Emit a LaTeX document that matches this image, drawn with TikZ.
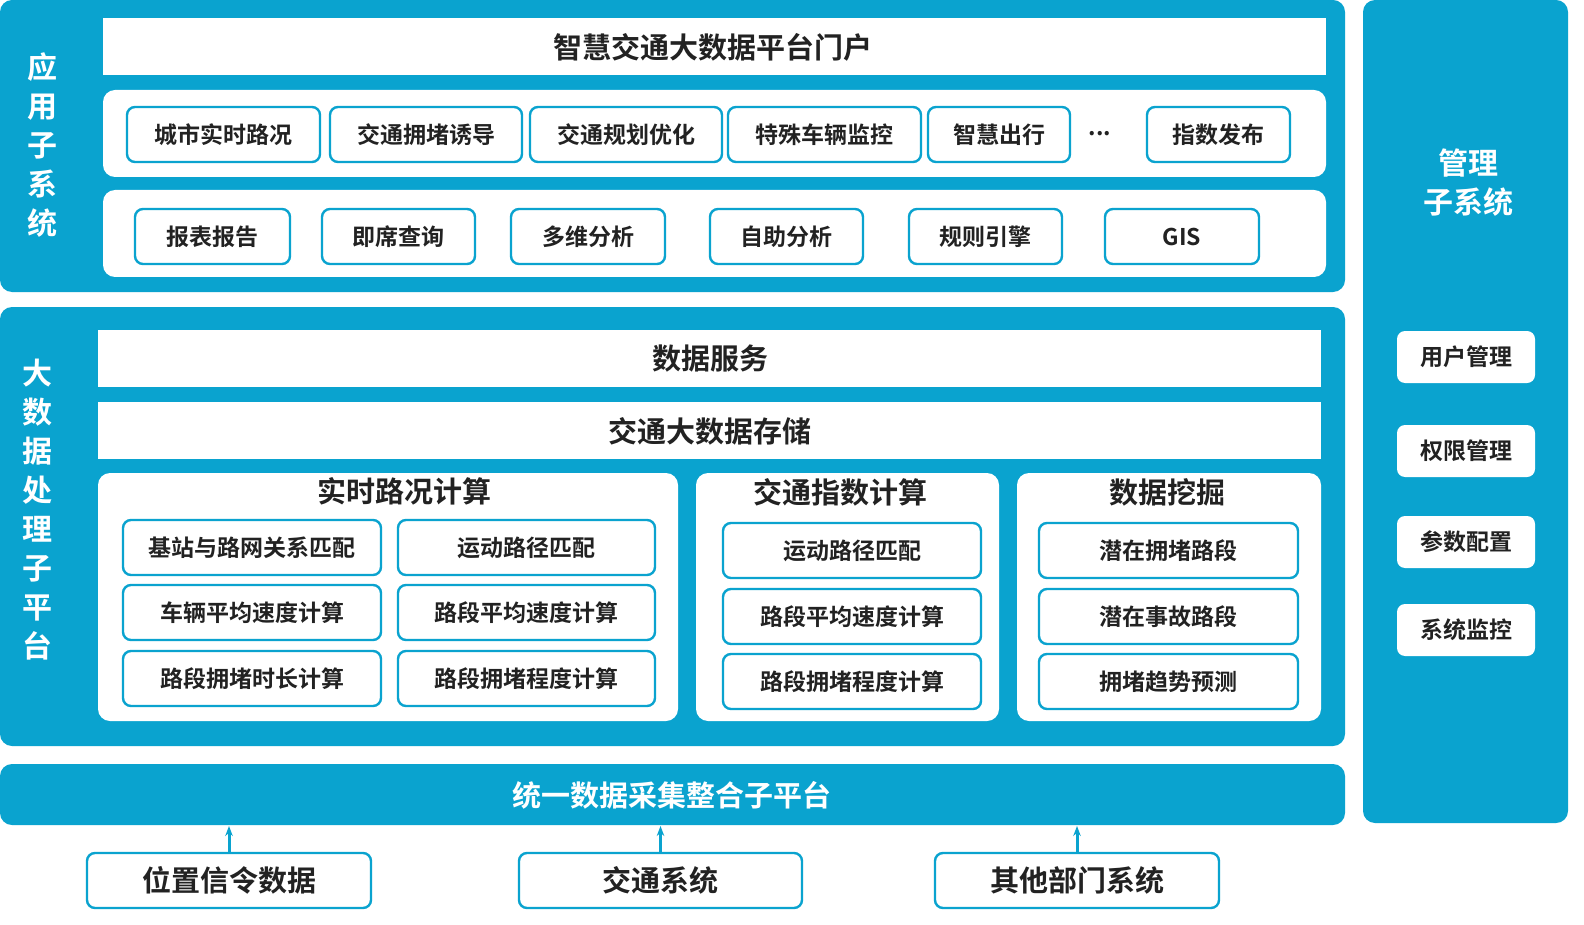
\documentclass[tikz,border=0pt]{standalone}
\usetikzlibrary{arrows.meta}
\usepackage{fontspec}
\setmainfont{Noto Sans CJK SC}[BoldFont={* Bold}]
\begin{document}
\begin{tikzpicture}[x=0.5pt,y=-0.5pt,
  panel/.style={fill=mb,draw=none,rounded corners=6pt},
  wbar/.style={fill=white,draw=none},
  wrow/.style={fill=white,draw=none,rounded corners=6pt},
  btn/.style={fill=white,draw=mb,line width=1.2pt,rounded corners=4pt},
  txt/.style={text=tx,font=\bfseries\fontsize{11.5}{13}\selectfont},
  big/.style={text=tx,font=\bfseries\fontsize{14.5}{16}\selectfont},
  vt/.style={text=white,font=\bfseries\fontsize{15}{19.5}\selectfont,align=center},
  arr/.style={-{Stealth[length=5pt]},draw=mb,line width=1.5pt}]
\definecolor{mb}{HTML}{0AA3CF}
\definecolor{tx}{HTML}{222222}
\useasboundingbox (0,0) rectangle (1584,925);
\fill[white] (0,0) rectangle (1584,925);
% top panel
\fill[panel] (0,0) rectangle (1345,292);
\node[vt] (vt1) at (42,145) {应\\用\\子\\系\\统};
\fill[wbar] (103,18) rectangle (1326,75);
\node[big] (portal) at (713,47) {智慧交通大数据平台门户};
\fill[wrow] (103,90) rectangle (1326,177);
\fill[wrow] (103,190) rectangle (1326,277);
\foreach \a/\b/\t [count=\i] in {127/320/城市实时路况,330/522/交通拥堵诱导,530/722/交通规划优化,728/921/特殊车辆监控,928/1070/智慧出行,1147/1290/指数发布}{
  \draw[btn] (\a,107) rectangle (\b,162);
  \node[txt] (r1\i) at ({(\a+\b)/2},134.5) {\t};}
\node[txt] (dots) at (1100,134) {...};
\foreach \a/\b/\t [count=\i] in {135/290/报表报告,322/475/即席查询,511/665/多维分析,710/863/自助分析,909/1062/规则引擎,1105/1259/GIS}{
  \draw[btn] (\a,209) rectangle (\b,264);
  \node[txt] (r2\i) at ({(\a+\b)/2},236.5) {\t};}
% middle panel
\fill[panel] (0,307) rectangle (1345,746);
\node[vt] (vt2) at (38,510) {大\\数\\据\\处\\理\\子\\平\\台};
\fill[wbar] (98,330) rectangle (1321,387);
\node[big] (ds) at (710,359) {数据服务};
\fill[wbar] (98,402) rectangle (1321,459);
\node[big] (st) at (710,431) {交通大数据存储};
\fill[wrow] (98,473) rectangle (678,721);
\fill[wrow] (696,473) rectangle (999,721);
\fill[wrow] (1017,473) rectangle (1321,721);
\node[big] (h1) at (404,491) {实时路况计算};
\node[big] (h2) at (840,492) {交通指数计算};
\node[big] (h3) at (1167,492) {数据挖掘};
\foreach \y/\t [count=\i] in {520/基站与路网关系匹配,585/车辆平均速度计算,651/路段拥堵时长计算}{
  \draw[btn] (123,\y) rectangle (381,\y+55);
  \node[txt] (a\i) at (252,\y+27.5) {\t};}
\foreach \y/\t [count=\i] in {520/运动路径匹配,585/路段平均速度计算,651/路段拥堵程度计算}{
  \draw[btn] (398,\y) rectangle (655,\y+55);
  \node[txt] (b\i) at (526,\y+27.5) {\t};}
\foreach \y/\t [count=\i] in {523/运动路径匹配,589/路段平均速度计算,654/路段拥堵程度计算}{
  \draw[btn] (723,\y) rectangle (981,\y+55);
  \node[txt] (c\i) at (852,\y+27.5) {\t};}
\foreach \y/\t [count=\i] in {523/潜在拥堵路段,589/潜在事故路段,654/拥堵趋势预测}{
  \draw[btn] (1039,\y) rectangle (1298,\y+55);
  \node[txt] (d\i) at (1168,\y+27.5) {\t};}
% bottom bar
\fill[panel] (0,764) rectangle (1345,825);
\node[text=white,font=\bfseries\fontsize{14.5}{16}\selectfont] (bar) at (672,795) {统一数据采集整合子平台};
\foreach \a/\b/\t [count=\i] in {87/371/位置信令数据,519/802/交通系统,935/1219/其他部门系统}{
  \draw[btn] (\a,853) rectangle (\b,908);
  \node[big] (s\i) at ({(\a+\b)/2},880.5) {\t};
  \coordinate (t\i) at ({(\a+\b)/2},853);
  \coordinate (u\i) at ({(\a+\b)/2},826);
  \draw[arr] (t\i) -- (u\i);}
% right panel
\fill[panel] (1363,0) rectangle (1568,823);
\node[vt] (mg) at (1468,183) {管理\\子系统};
\foreach \y/\t [count=\i] in {331/用户管理,425/权限管理,516/参数配置,604/系统监控}{
  \fill[white,rounded corners=4pt] (1397,\y) rectangle (1535,\y+52);
  \node[txt] (m\i) at (1466,\y+26) {\t};}
\end{tikzpicture}
\end{document}
